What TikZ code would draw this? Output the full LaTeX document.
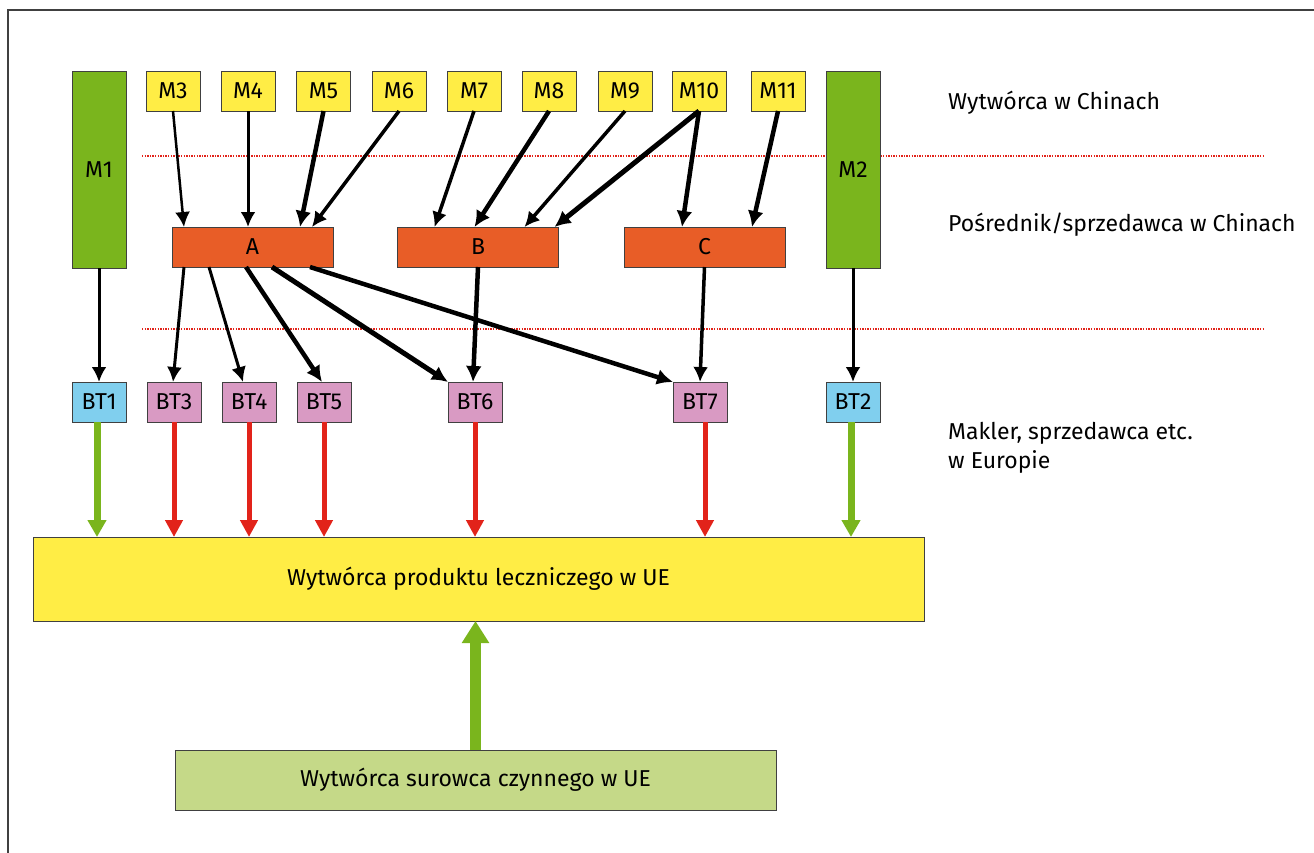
\documentclass[tikz,border=0pt]{standalone}
\usepackage{fontspec}
\setmainfont{Fira Sans}
\usetikzlibrary{arrows.meta}
\definecolor{mgreen}{HTML}{7AB51D}
\definecolor{myellow}{HTML}{FFED45}
\definecolor{morange}{HTML}{E85D27}
\definecolor{mpink}{HTML}{D99AC3}
\definecolor{mblue}{HTML}{80CFEE}
\definecolor{lgreen}{HTML}{C5D988}
\definecolor{mred}{HTML}{E2231A}
\definecolor{bordergray}{HTML}{404040}
\begin{document}
\begin{tikzpicture}[x=1pt,y=-1pt,
  base/.style={draw=bordergray,line width=1pt,inner sep=0pt,outer sep=0pt,font=\fontsize{23}{27}\selectfont},
  mtall/.style={base,fill=mgreen,minimum width=54pt,minimum height=197pt},
  mbox/.style={base,fill=myellow,minimum width=54pt,minimum height=40pt},
  obox/.style={base,fill=morange,minimum width=161pt,minimum height=40pt},
  pbox/.style={base,fill=mpink,minimum width=54pt,minimum height=40pt},
  bbox/.style={base,fill=mblue,minimum width=54pt,minimum height=40pt},
  lbl/.style={anchor=west,inner sep=0pt,font=\fontsize{23}{29}\selectfont,align=left},
  thin/.style={line width=3pt,-{Latex[length=15pt,width=15pt]}},
  thick/.style={line width=4.5pt,-{Latex[length=16pt,width=16pt]}},
  redarr/.style={mred,line width=5pt,-{Triangle[length=17pt,width=17pt]}},
  grnarr/.style={mgreen,line width=7pt,-{Triangle[length=17pt,width=18pt]}},
  dotline/.style={mred,line width=1.3pt,dash pattern=on 1.3pt off 1.3pt}
]
\useasboundingbox (0,0) rectangle (1314,852);
\draw[bordergray,line width=1.5pt] (8,870) -- (8,10) -- (1330,10);

% dotted separators
\draw[dotline] (142,156) -- (1265,156);
\draw[dotline] (142,329) -- (1265,329);

% top row
\node[mtall] (m1) at (99,169.5) {M1};
\node[mtall] (m2) at (853,169.5) {M2};
\node[mbox] (m3) at (173,91) {M3};
\node[mbox] (m4) at (248,91) {M4};
\node[mbox] (m5) at (323.5,91) {M5};
\node[mbox] (m6) at (399,91) {M6};
\node[mbox] (m7) at (474,91) {M7};
\node[mbox] (m8) at (549,91) {M8};
\node[mbox] (m9) at (625,91) {M9};
\node[mbox] (m10) at (699,91) {M10};
\node[mbox] (m11) at (778,91) {M11};

% middle row
\node[obox] (a) at (252.5,247) {A};
\node[obox] (b) at (478,247) {B};
\node[obox] (c) at (704.5,247) {C};

% BT row
\node[bbox] (bt1) at (99,402) {BT1};
\node[pbox] (bt3) at (174,402) {BT3};
\node[pbox] (bt4) at (249,402) {BT4};
\node[pbox] (bt5) at (324,402) {BT5};
\node[pbox] (bt6) at (475,402) {BT6};
\node[pbox] (bt7) at (700,402) {BT7};
\node[bbox] (bt2) at (853,402) {BT2};

% bottom boxes
\node[base,fill=myellow,minimum width=891pt,minimum height=84pt] (eu) at (478.5,579) {Wytwórca produktu leczniczego w UE};
\node[base,fill=lgreen,minimum width=601pt,minimum height=60pt] (api) at (475.5,780) {Wytwórca surowca czynnego w UE};

% labels
\node[lbl] (l1) at (948,103) {Wytwórca w Chinach};
\node[lbl] (l2) at (948,225) {Pośrednik/sprzedawca w Chinach};
\node[lbl] (l3) at (948,447.5) {Makler, sprzedawca etc.\\w Europie};

% M -> intermediaries
\draw[thin,line width=2.5pt] (m3.south) -- ([xshift=12pt]a.north west);
\draw[thin] (m4.south) -- ([xshift=76pt]a.north west);
\draw[thick] (m5.south) -- ([xshift=128pt]a.north west);
\draw[thin,line width=3.5pt] (m6.south) -- ([xshift=140pt]a.north west);
\draw[thin,line width=3.5pt] (m7.south) -- ([xshift=37pt]b.north west);
\draw[thick] (m8.south) -- ([xshift=77pt]b.north west);
\draw[thin,line width=3.5pt] (m9.south) -- ([xshift=127pt]b.north west);
\draw[thick,line width=5pt] (m10.south) -- ([xshift=157pt]b.north west);
\draw[thick] (m10.south) -- ([xshift=58pt]c.north west);
\draw[thick] (m11.south) -- ([xshift=128pt]c.north west);

% direct
\draw[thin] (m1.south) -- (bt1.north);
\draw[thin] (m2.south) -- (bt2.north);

% intermediaries -> BT
\draw[thin] ([xshift=12pt]a.south west) -- ([xshift=-1pt]bt3.north);
\draw[thin] ([xshift=37pt]a.south west) -- ([xshift=-6pt]bt4.north);
\draw[thick] ([xshift=74pt]a.south west) -- ([xshift=-2pt]bt5.north);
\draw[thick,line width=5pt] ([xshift=100pt]a.south west) -- (bt6.north west);
\draw[thick] ([xshift=138pt]a.south west) -- (bt7.north west);
\draw[thick] (b.south) -- ([xshift=-2pt]bt6.north);
\draw[thin,line width=3.5pt] (c.south) -- (bt7.north);

% BT -> EU manufacturer
\draw[grnarr] ([xshift=-2pt]bt1.south) -- ([xshift=-2pt]bt1.south |- eu.north);
\draw[redarr] (bt3.south) -- (bt3.south |- eu.north);
\draw[redarr] (bt4.south) -- (bt4.south |- eu.north);
\draw[redarr] (bt5.south) -- (bt5.south |- eu.north);
\draw[redarr] (bt6.south) -- (bt6.south |- eu.north);
\draw[redarr] ([xshift=5pt]bt7.south) -- ([xshift=5pt]bt7.south |- eu.north);
\draw[grnarr] ([xshift=-2pt]bt2.south) -- ([xshift=-2pt]bt2.south |- eu.north);

% API -> EU manufacturer
\draw[mgreen,line width=11pt,-{Triangle[length=22pt,width=26pt]}] (api.north) -- (api.north |- eu.south);
\end{tikzpicture}
\end{document}
